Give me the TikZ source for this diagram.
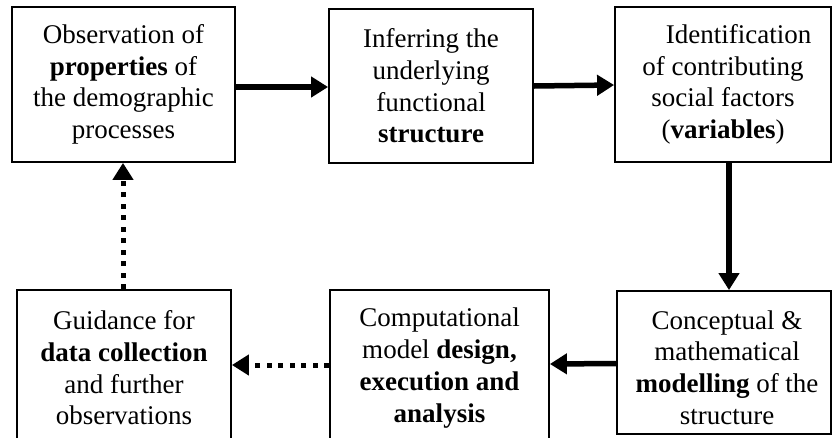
\documentclass[tikz,border=0pt]{standalone}
\usepackage{fontspec}
\setmainfont{Liberation Serif}
\usetikzlibrary{arrows.meta}
\begin{document}
\begin{tikzpicture}[x=1pt,y=-1pt,
  box/.style={draw=black,line width=1.8pt,align=center,inner sep=0pt,
    font=\fontsize{27}{31.7}\selectfont},
  txt/.style={align=center,inner sep=0pt,font=\fontsize{27}{31.7}\selectfont},
  arr/.style={line width=5.5pt,-{Triangle[length=17pt,width=20pt]}},
  dotarr/.style={line width=5pt,dash pattern=on 5pt off 6.5pt,-{Triangle[length=17pt,width=20pt]}}]
\useasboundingbox (0,0) rectangle (832,437);
\clip (0,0) rectangle (832,437);
\fill[white] (0,0) rectangle (832,437);
\node[box,minimum width=223pt,minimum height=155pt] (b1) at (123.5,84.5)
  {Observation of\\\textbf{properties} of\\the demographic\\processes};
\node[box,minimum width=204pt,minimum height=154pt] (b2) at (431,86)
  {Inferring the\\underlying\\functional\\\textbf{structure}};
\node[box,minimum width=216pt,minimum height=155pt] (b3) at (723,84.5)
  {\hspace*{1.15em}Identification\\of contributing\\social factors\\(\textbf{variables})};
\node[box,minimum width=214pt,minimum height=143pt] (b4) at (724,362.5) {};
\node[txt] (t4) at (727,367.5)
  {Conceptual \&\\mathematical\\\textbf{modelling} of the\\structure};
\node[box,minimum width=219pt,minimum height=156pt] (b5) at (439.5,368)
  {Computational\\model \textbf{design,}\\\textbf{execution and}\\\textbf{analysis}};
\node[box,minimum width=214pt,minimum height=156pt] (b6) at (124,368)
  {Guidance for\\\textbf{data collection}\\and further\\observations};
\draw[arr] ([yshift=-2.5pt]b1.east) -- ([yshift=-1pt]b2.west);
\draw[arr] (b2.east) -- ([yshift=-0.5pt]b3.west);
\draw[arr] ([xshift=6pt]b3.south) -- ([xshift=5pt]b4.north);
\draw[arr] ([yshift=-1pt]b4.west) -- ([yshift=4pt]b5.east);
\draw[dotarr] ([yshift=3pt]b5.west) -- ([yshift=3pt]b6.east);
\draw[dotarr] ([xshift=-1pt]b6.north) -- ([xshift=-0.5pt]b1.south);
\end{tikzpicture}
\end{document}
